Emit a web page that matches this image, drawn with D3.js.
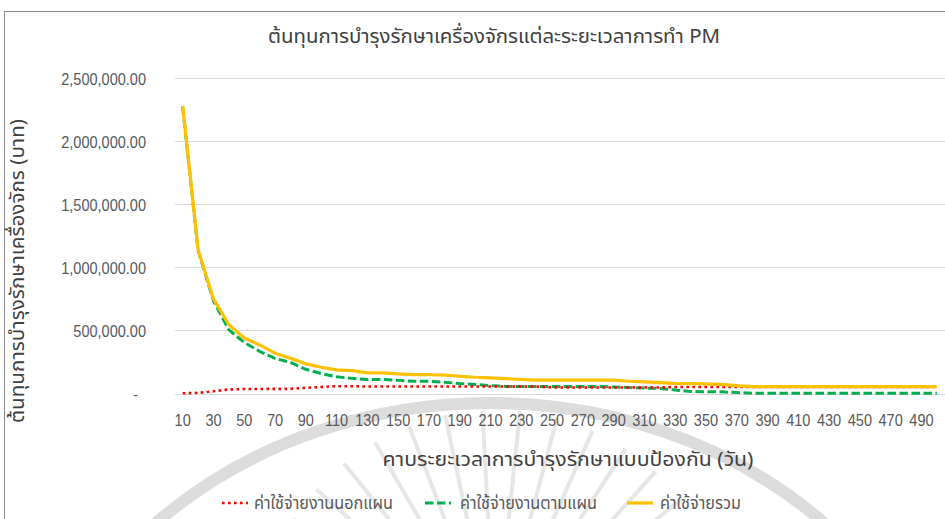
<!DOCTYPE html>
<html>
<head>
<meta charset="utf-8">
<script src="https://cdn.jsdelivr.net/npm/d3@7"></script>
<style>
  html, body { margin: 0; padding: 0; background: #ffffff; }
  svg { display: block; }
  .num { font-family: "Liberation Sans Narrow", "Liberation Sans", "DejaVu Sans Condensed", sans-serif; }
  .thai { font-family: "Noto Sans Thai", "Noto Sans Thai UI", "Loma", "Garuda", "Norasi", "Noto Sans", sans-serif; }
</style>
</head>
<body>
<svg id="chart" width="945" height="519"></svg>
<script>
// PM interval (days)
const intervals = [10,20,30,40,50,60,70,80,90,100,110,120,130,140,150,160,170,180,190,200,
  210,220,230,240,250,260,270,280,290,300,310,320,330,340,350,360,370,380,390,400,
  410,420,430,440,450,460,470,480,490,500];

// Unplanned (breakdown) maintenance cost
const unplannedCost = [2000,5000,18000,32000,36000,36000,37000,37000,45000,52000,
  58000,58000,55000,55000,55000,55000,55000,55000,55000,55000,
  55000,55000,55000,55000,48000,48000,48000,48000,48000,48000,
  48000,48000,52000,52000,52000,52000,52000,52000,52000,52000,
  52000,52000,52000,52000,52000,52000,52000,52000,52000,52000];

// Planned (preventive) maintenance cost
const plannedCost = [2270000,1135000,735000,505000,405000,334000,278000,247000,192000,158000,
  132000,120000,111000,111000,105000,97000,97000,90000,79000,71000,
  63000,56000,55000,55000,55000,55000,55000,55000,52000,47000,
  43000,40000,28000,16000,14000,13000,8000,2000,2000,2000,
  2000,2000,2000,2000,2000,2000,2000,2000,2000,2000];

// Total maintenance cost
const totalCost = [2280000,1140000,750000,545000,440000,385000,320000,280000,235000,208000,
  187000,182000,163000,163000,155000,150000,150000,145000,137000,129000,
  124000,118000,111000,106000,106000,106000,106000,106000,106000,97000,
  92000,86000,80000,79000,76000,72000,62000,54000,54000,54000,
  54000,54000,54000,54000,54000,54000,54000,54000,54000,54000];

const yTicks = [0, 500000, 1000000, 1500000, 2000000, 2500000];

const chartTitle = "ต้นทุนการบำรุงรักษาเครื่องจักรแต่ละระยะเวลาการทำ PM";
const xTitle = "คาบระยะเวลาการบำรุงรักษาแบบป้องกัน (วัน)";
const yTitle = "ต้นทุนการบำรุงรักษาเครื่องจักร (บาท)";
const seriesNames = ["ค่าใช้จ่ายงานนอกแผน", "ค่าใช้จ่ายงานตามแผน", "ค่าใช้จ่ายรวม"];

const svg = d3.select("#chart");

// faint emblem behind the chart: one wide ring and a fan of rays
const emblem = svg.append("g").attr("transform", "translate(490,808)").attr("fill", "none");
emblem.append("ellipse").attr("rx", 470).attr("ry", 405)
  .attr("stroke", "#dcdcdc").attr("stroke-width", 12);
const fan = svg.append("g").attr("transform", "translate(495,650)");
fan.selectAll("line").data(d3.range(-165, -14, 9)).join("line")
  .attr("x1", a => 110 * Math.cos(a * Math.PI / 180))
  .attr("y1", a => 110 * Math.sin(a * Math.PI / 180))
  .attr("x2", a => 240 * Math.cos(a * Math.PI / 180))
  .attr("y2", a => 240 * Math.sin(a * Math.PI / 180))
  .attr("stroke", "#e6e6e6").attr("stroke-width", 4);

// outer frame
svg.append("rect").attr("x", 4.5).attr("y", 11.5).attr("width", 1000).attr("height", 1000)
  .attr("fill", "none").attr("stroke", "#8c8c8c").attr("stroke-width", 1);

const x = d3.scaleBand().domain(intervals).range([175, 944.5]).padding(0);
const y = d3.scaleLinear().domain([0, 2500000]).range([393.5, 78.3]);
const xc = d => x(d) + x.bandwidth() / 2;

// narrows a number label the way a condensed face would
function condense(sel, k) {
  sel.each(function () {
    const len = this.getComputedTextLength();
    if (len > 0) d3.select(this).attr("textLength", len * k).attr("lengthAdjust", "spacingAndGlyphs");
  });
}

// gridlines + y labels
svg.append("g").selectAll("line").data(yTicks).join("line")
  .attr("x1", 175).attr("x2", 945)
  .attr("y1", d => Math.round(y(d)) + 0.5).attr("y2", d => Math.round(y(d)) + 0.5)
  .attr("stroke", "#d9d9d9").attr("stroke-width", 1);

const yAxis = d3.axisLeft(y).tickValues(yTicks).tickSize(0)
  .tickFormat(d => d === 0 ? "-" : d3.format(",.2f")(d));
const gy = svg.append("g").attr("transform", "translate(146,0)").call(yAxis);
gy.select(".domain").remove();
gy.selectAll("text").attr("class", "num").attr("font-size", 16.5).attr("fill", "#595959")
  .attr("x", d => d === 0 ? -8 : 0).attr("dy", "0.35em");
condense(gy.selectAll("text"), 0.88);

// x labels (every other interval)
const xAxis = d3.axisBottom(x).tickValues(intervals.filter((d, i) => i % 2 === 0)).tickSize(0);
const gx = svg.append("g").attr("transform", "translate(0,393.5)").call(xAxis);
gx.select(".domain").remove();
gx.selectAll("text").attr("class", "num").attr("font-size", 16.5).attr("fill", "#595959")
  .attr("y", 0).attr("dy", "1.95em");
condense(gx.selectAll("text"), 0.88);

// series
const line = vals => d3.line().x((d, i) => xc(intervals[i])).y(d => y(d))(vals);
svg.append("path").attr("d", line(plannedCost)).attr("fill", "none")
  .attr("stroke", "#00b050").attr("stroke-width", 3).attr("stroke-dasharray", "8.5,3.5");
svg.append("path").attr("d", line(unplannedCost)).attr("fill", "none")
  .attr("stroke", "#ff0000").attr("stroke-width", 2.6).attr("stroke-dasharray", "2.6,3.4");
svg.append("path").attr("d", line(totalCost)).attr("fill", "none")
  .attr("stroke", "#ffc000").attr("stroke-width", 3.2).attr("stroke-linejoin", "round");

// fits a text element to a given width
function fit(sel, w) {
  const n = sel.node();
  const len = n.getComputedTextLength();
  if (len > 0 && Math.abs(len - w) > 1) sel.attr("textLength", w).attr("lengthAdjust", "spacingAndGlyphs");
  return sel;
}

// titles
fit(svg.append("text").attr("class", "thai").attr("x", 494).attr("y", 43)
  .attr("text-anchor", "middle").attr("font-size", 20).attr("fill", "#404040").text(chartTitle), 452);
fit(svg.append("text").attr("class", "thai").attr("x", 568).attr("y", 466)
  .attr("text-anchor", "middle").attr("font-size", 19).attr("fill", "#404040").text(xTitle), 371);
fit(svg.append("text").attr("class", "thai").attr("transform", "translate(24,271) rotate(-90)")
  .attr("text-anchor", "middle").attr("font-size", 19).attr("fill", "#404040").text(yTitle), 304);

// legend
const legendItems = [
  {name: seriesNames[0], color: "#ff0000", dash: "2.6,3.4", w: 2.6, x0: 222, tx: 254, tw: 139},
  {name: seriesNames[1], color: "#00b050", dash: "8.5,3.5", w: 3, x0: 425, tx: 460, tw: 137},
  {name: seriesNames[2], color: "#ffc000", dash: null, w: 3.2, x0: 627, tx: 660, tw: 81}
];
const lg = svg.append("g");
legendItems.forEach(it => {
  lg.append("line").attr("x1", it.x0).attr("x2", it.x0 + 26).attr("y1", 503).attr("y2", 503)
    .attr("stroke", it.color).attr("stroke-width", it.w).attr("stroke-dasharray", it.dash);
  fit(lg.append("text").attr("class", "thai").attr("x", it.tx).attr("y", 509)
    .attr("font-size", 17).attr("fill", "#595959").text(it.name), it.tw);
});
</script>
</body>
</html>
